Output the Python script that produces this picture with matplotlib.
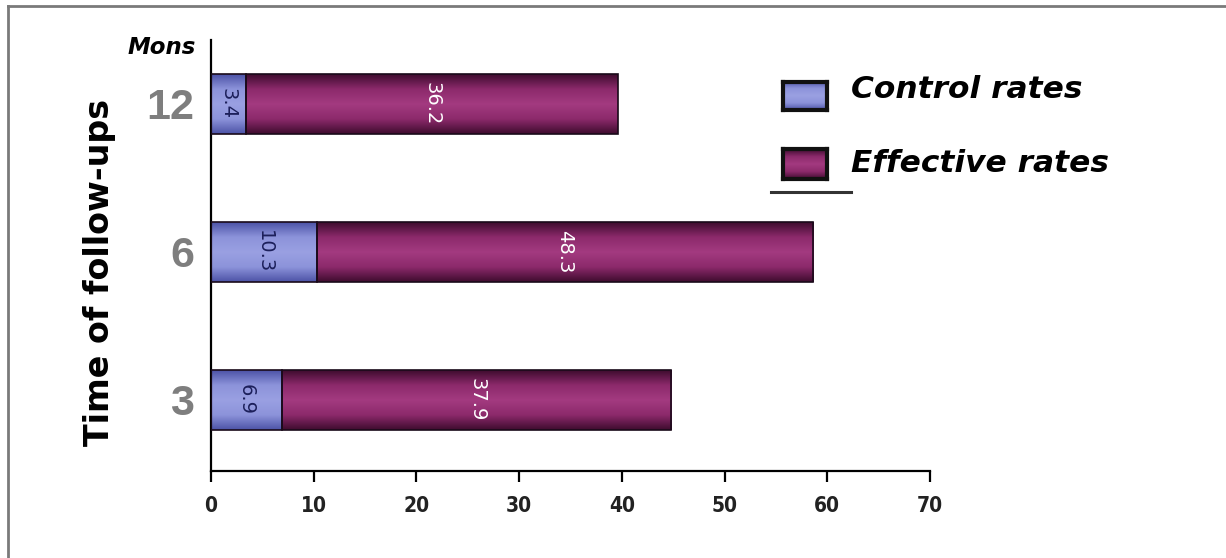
import matplotlib
matplotlib.use("Agg")
import matplotlib.pyplot as plt
import numpy as np
from matplotlib.colors import LinearSegmentedColormap
from matplotlib.lines import Line2D

# Follow-up data (months) and stacked rates
months = ["3", "6", "12"]
control_rates = [6.9, 10.3, 3.4]
effective_rates = [37.9, 48.3, 36.2]
x_ticks = [0, 10, 20, 30, 40, 50, 60, 70]

W, H = 1226, 558
fig = plt.figure(figsize=(W / 100, H / 100), dpi=100)
ax = fig.add_axes([211 / W, 1 - 471 / H, 719 / W, 431 / H])

# cylinder-like shading: dark edges, light middle
blue_cmap = LinearSegmentedColormap.from_list(
    "ctl", ["#4c52a6", "#8c93da", "#9aa0e2", "#8c93da", "#4c52a6"])
mag_cmap = LinearSegmentedColormap.from_list(
    "eff", ["#3e0c2e", "#8c2a6b", "#a33a80", "#8c2a6b", "#3e0c2e"])
grad = np.linspace(0, 1, 256).reshape(-1, 1)

ypos = np.arange(len(months))
bar_h = 0.4


def shaded_bars(left, width, cmap):
    bars = ax.barh(ypos, width, left=left, height=bar_h,
                   facecolor="none", edgecolor="#1a0a1a", linewidth=1.2, zorder=3)
    for b in bars:
        x0, y0 = b.get_x(), b.get_y()
        im = ax.imshow(grad, extent=[x0, x0 + b.get_width(), y0, y0 + b.get_height()],
                       aspect="auto", cmap=cmap, origin="lower", zorder=2,
                       interpolation="bilinear")
        im.set_clip_path(b)
    return bars


shaded_bars(0, control_rates, blue_cmap)
shaded_bars(control_rates, effective_rates, mag_cmap)

for y, c, e in zip(ypos, control_rates, effective_rates):
    ax.text(c / 2, y, f"{c}", rotation=270, ha="center", va="center",
            color="#1c1f5a", fontsize=14, family="DejaVu Sans", zorder=4)
    ax.text(c + e / 2, y, f"{e}", rotation=270, ha="center", va="center",
            color="white", fontsize=14, family="DejaVu Sans", zorder=4)

ax.set_xlim(0, 70)
ax.set_ylim(-0.48, 2.432)
ax.set_xticks(x_ticks)
ax.set_xticklabels([str(t) for t in x_ticks])
ax.set_yticks(ypos)
ax.set_yticklabels(months)

for s in ["top", "right"]:
    ax.spines[s].set_visible(False)
for s in ["left", "bottom"]:
    ax.spines[s].set_linewidth(1.6)
    ax.spines[s].set_color("black")

ax.tick_params(axis="x", length=8, width=1.6, direction="out", pad=10,
               colors="black", labelcolor="#222222")
ax.tick_params(axis="y", length=0, pad=12, labelcolor="#7e7e7e")
for lab in ax.get_xticklabels():
    lab.set_family("DejaVu Sans")
    lab.set_fontstretch("condensed")
    lab.set_fontweight("bold")
    lab.set_fontsize(15)
for lab in ax.get_yticklabels():
    lab.set_family("Liberation Sans")
    lab.set_fontweight("bold")
    lab.set_fontsize(31)

# axis titles
fig.text(100 / W, 1 - 272 / H, "Time of follow-ups", rotation=90, ha="center",
         va="center", fontsize=24, fontweight="bold", family="DejaVu Sans")
fig.text(196 / W, 1 - 47 / H, "Mons", ha="right", va="center", fontsize=16.5,
         fontweight="bold", style="oblique", family="DejaVu Sans")

# legend drawn by hand with shaded swatches
def swatch(x0, y0, w, h, cmap):
    sax = fig.add_axes([x0 / W, 1 - (y0 + h) / H, w / W, h / H])
    sax.imshow(grad, aspect="auto", cmap=cmap, origin="lower", extent=[0, 1, 0, 1])
    sax.set_xticks([])
    sax.set_yticks([])
    for sp in sax.spines.values():
        sp.set_linewidth(3)
        sp.set_color("#111111")


swatch(783, 82, 44, 28, blue_cmap)
swatch(783, 149, 44, 30, mag_cmap)
fig.text(851 / W, 1 - 89 / H, "Control rates", ha="left", va="center",
         fontsize=22.5, fontweight="bold", style="oblique", family="DejaVu Sans")
fig.text(851 / W, 1 - 163 / H, "Effective rates", ha="left", va="center",
         fontsize=22.5, fontweight="bold", style="oblique", family="DejaVu Sans")
fig.add_artist(Line2D([771 / W, 851 / W], [1 - 192 / H, 1 - 192 / H],
                      color="#333333", linewidth=2.2))

# frame lines along top and left edges
fig.add_artist(Line2D([8 / W, 1], [1 - 6 / H, 1 - 6 / H], color="#7a7a7a", linewidth=2))
fig.add_artist(Line2D([8 / W, 8 / W], [0, 1 - 6 / H], color="#7a7a7a", linewidth=2))

fig.savefig("out.png", dpi=100)
